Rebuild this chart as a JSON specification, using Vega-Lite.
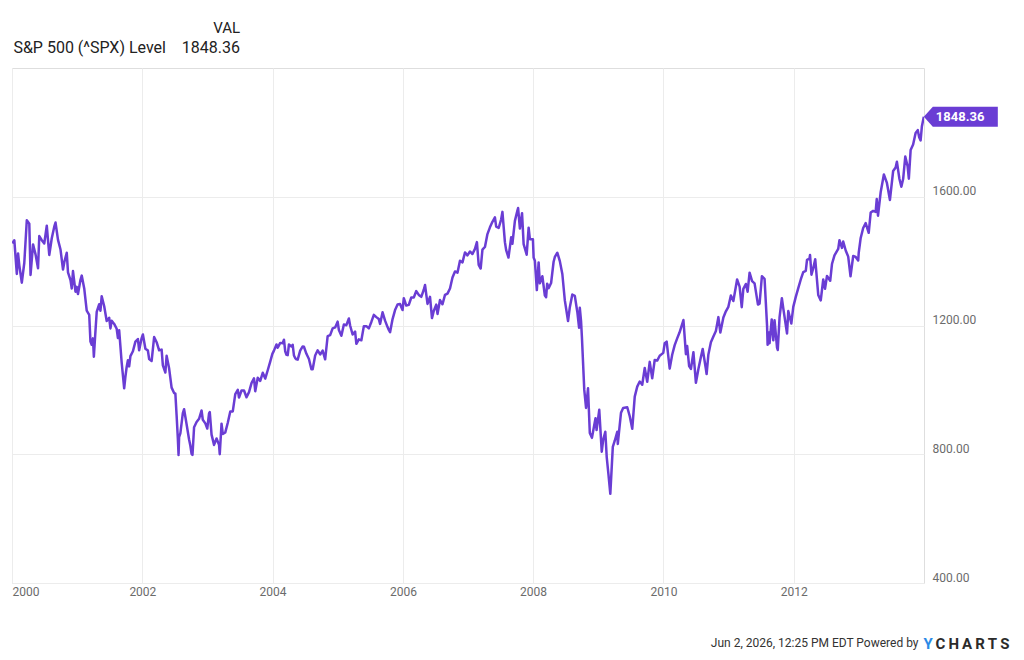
{
  "$schema": "https://vega.github.io/schema/vega-lite/v6.json",
  "width": 912,
  "height": 515,
  "autosize": {"type": "none"},
  "padding": {"left": 12, "top": 68, "right": 100, "bottom": 77},
  "background": "#ffffff",
  "title": {
    "text": "VAL",
    "subtitle": "S&P 500 (^SPX) Level\u00a0\u00a0\u00a0\u00a01848.36",
    "anchor": "start",
    "align": "right",
    "dx": 228,
    "offset": 12,
    "font": "Roboto",
    "fontSize": 15,
    "fontWeight": "normal",
    "color": "#222222",
    "subtitleFont": "Roboto",
    "subtitleFontSize": 16,
    "subtitleColor": "#222222",
    "subtitlePadding": 4
  },
  "config": {
    "view": {"stroke": "#dedede", "strokeWidth": 1},
    "axis": {"labelFont": "Roboto", "titleFont": "Roboto"}
  },
  "data": {
    "values": [
      {"d": "2000-01-03", "v": 1455}, {"d": "2000-01-14", "v": 1465}, {"d": "2000-01-28", "v": 1360},
      {"d": "2000-02-04", "v": 1424}, {"d": "2000-02-11", "v": 1387}, {"d": "2000-02-25", "v": 1333},
      {"d": "2000-03-10", "v": 1395}, {"d": "2000-03-24", "v": 1527}, {"d": "2000-04-07", "v": 1516},
      {"d": "2000-04-14", "v": 1357}, {"d": "2000-04-28", "v": 1452}, {"d": "2000-05-12", "v": 1421},
      {"d": "2000-05-26", "v": 1378}, {"d": "2000-06-02", "v": 1478}, {"d": "2000-06-16", "v": 1465},
      {"d": "2000-06-30", "v": 1455}, {"d": "2000-07-14", "v": 1510}, {"d": "2000-07-28", "v": 1419},
      {"d": "2000-08-11", "v": 1471}, {"d": "2000-08-25", "v": 1507}, {"d": "2000-09-01", "v": 1520},
      {"d": "2000-09-15", "v": 1466}, {"d": "2000-09-29", "v": 1436}, {"d": "2000-10-13", "v": 1374},
      {"d": "2000-10-20", "v": 1396}, {"d": "2000-11-03", "v": 1426}, {"d": "2000-11-10", "v": 1365},
      {"d": "2000-11-24", "v": 1341}, {"d": "2000-12-01", "v": 1315}, {"d": "2000-12-08", "v": 1369},
      {"d": "2000-12-22", "v": 1305}, {"d": "2000-12-29", "v": 1320},
      {"d": "2001-01-05", "v": 1298}, {"d": "2001-01-19", "v": 1342}, {"d": "2001-01-26", "v": 1355},
      {"d": "2001-02-09", "v": 1315}, {"d": "2001-02-23", "v": 1246}, {"d": "2001-03-09", "v": 1233},
      {"d": "2001-03-16", "v": 1150}, {"d": "2001-03-23", "v": 1140}, {"d": "2001-03-30", "v": 1160},
      {"d": "2001-04-04", "v": 1103}, {"d": "2001-04-13", "v": 1183}, {"d": "2001-04-20", "v": 1242},
      {"d": "2001-05-04", "v": 1266}, {"d": "2001-05-11", "v": 1246}, {"d": "2001-05-18", "v": 1291},
      {"d": "2001-06-01", "v": 1260}, {"d": "2001-06-15", "v": 1214}, {"d": "2001-06-29", "v": 1224},
      {"d": "2001-07-06", "v": 1191}, {"d": "2001-07-13", "v": 1215}, {"d": "2001-07-27", "v": 1205},
      {"d": "2001-08-10", "v": 1190}, {"d": "2001-08-17", "v": 1161}, {"d": "2001-08-24", "v": 1185},
      {"d": "2001-09-07", "v": 1085}, {"d": "2001-09-21", "v": 1005}, {"d": "2001-09-28", "v": 1041},
      {"d": "2001-10-05", "v": 1071}, {"d": "2001-10-12", "v": 1092}, {"d": "2001-10-19", "v": 1073},
      {"d": "2001-10-26", "v": 1105}, {"d": "2001-11-09", "v": 1120}, {"d": "2001-11-23", "v": 1150},
      {"d": "2001-12-07", "v": 1158}, {"d": "2001-12-14", "v": 1123}, {"d": "2001-12-28", "v": 1161},
      {"d": "2002-01-04", "v": 1172}, {"d": "2002-01-18", "v": 1128}, {"d": "2002-02-01", "v": 1122},
      {"d": "2002-02-08", "v": 1096}, {"d": "2002-02-22", "v": 1090}, {"d": "2002-03-08", "v": 1164},
      {"d": "2002-03-22", "v": 1148}, {"d": "2002-04-05", "v": 1123}, {"d": "2002-04-19", "v": 1125},
      {"d": "2002-04-26", "v": 1076}, {"d": "2002-05-10", "v": 1054}, {"d": "2002-05-17", "v": 1106},
      {"d": "2002-05-31", "v": 1067}, {"d": "2002-06-14", "v": 1007}, {"d": "2002-06-28", "v": 990},
      {"d": "2002-07-05", "v": 989}, {"d": "2002-07-12", "v": 921}, {"d": "2002-07-19", "v": 848},
      {"d": "2002-07-23", "v": 798}, {"d": "2002-07-26", "v": 853}, {"d": "2002-08-02", "v": 865},
      {"d": "2002-08-16", "v": 928}, {"d": "2002-08-23", "v": 940}, {"d": "2002-09-06", "v": 893},
      {"d": "2002-09-20", "v": 846}, {"d": "2002-09-27", "v": 827}, {"d": "2002-10-04", "v": 801},
      {"d": "2002-10-09", "v": 798}, {"d": "2002-10-18", "v": 884}, {"d": "2002-11-01", "v": 900},
      {"d": "2002-11-15", "v": 910}, {"d": "2002-11-29", "v": 936}, {"d": "2002-12-06", "v": 907},
      {"d": "2002-12-20", "v": 896}, {"d": "2002-12-31", "v": 880},
      {"d": "2003-01-10", "v": 927}, {"d": "2003-01-14", "v": 931}, {"d": "2003-01-24", "v": 861},
      {"d": "2003-02-07", "v": 829}, {"d": "2003-02-21", "v": 849}, {"d": "2003-03-07", "v": 829},
      {"d": "2003-03-11", "v": 800}, {"d": "2003-03-21", "v": 895}, {"d": "2003-03-28", "v": 863},
      {"d": "2003-04-11", "v": 868}, {"d": "2003-04-25", "v": 898}, {"d": "2003-05-09", "v": 933},
      {"d": "2003-05-23", "v": 933}, {"d": "2003-06-06", "v": 987}, {"d": "2003-06-20", "v": 1000},
      {"d": "2003-06-27", "v": 976}, {"d": "2003-07-11", "v": 998}, {"d": "2003-07-25", "v": 998},
      {"d": "2003-08-08", "v": 977}, {"d": "2003-08-22", "v": 993}, {"d": "2003-09-05", "v": 1021},
      {"d": "2003-09-19", "v": 1036}, {"d": "2003-09-26", "v": 996}, {"d": "2003-10-10", "v": 1038},
      {"d": "2003-10-24", "v": 1028}, {"d": "2003-11-07", "v": 1053}, {"d": "2003-11-21", "v": 1035},
      {"d": "2003-12-05", "v": 1061}, {"d": "2003-12-19", "v": 1088}, {"d": "2003-12-31", "v": 1112},
      {"d": "2004-01-09", "v": 1122}, {"d": "2004-01-23", "v": 1141}, {"d": "2004-01-30", "v": 1131},
      {"d": "2004-02-13", "v": 1146}, {"d": "2004-02-27", "v": 1145}, {"d": "2004-03-05", "v": 1156},
      {"d": "2004-03-12", "v": 1120}, {"d": "2004-03-19", "v": 1109}, {"d": "2004-03-26", "v": 1108},
      {"d": "2004-04-02", "v": 1141}, {"d": "2004-04-16", "v": 1135}, {"d": "2004-04-23", "v": 1140},
      {"d": "2004-04-30", "v": 1107}, {"d": "2004-05-07", "v": 1099}, {"d": "2004-05-14", "v": 1095},
      {"d": "2004-05-21", "v": 1094}, {"d": "2004-06-04", "v": 1122}, {"d": "2004-06-18", "v": 1135},
      {"d": "2004-06-25", "v": 1134}, {"d": "2004-07-09", "v": 1112}, {"d": "2004-07-23", "v": 1096},
      {"d": "2004-08-06", "v": 1064}, {"d": "2004-08-13", "v": 1064}, {"d": "2004-08-27", "v": 1107},
      {"d": "2004-09-10", "v": 1123}, {"d": "2004-09-24", "v": 1110}, {"d": "2004-10-08", "v": 1122},
      {"d": "2004-10-22", "v": 1095}, {"d": "2004-11-05", "v": 1167}, {"d": "2004-11-19", "v": 1170},
      {"d": "2004-12-03", "v": 1191}, {"d": "2004-12-17", "v": 1194}, {"d": "2004-12-31", "v": 1212},
      {"d": "2005-01-07", "v": 1186}, {"d": "2005-01-21", "v": 1168}, {"d": "2005-02-04", "v": 1203},
      {"d": "2005-02-18", "v": 1201}, {"d": "2005-03-04", "v": 1222}, {"d": "2005-03-11", "v": 1200},
      {"d": "2005-03-25", "v": 1172}, {"d": "2005-04-08", "v": 1181}, {"d": "2005-04-15", "v": 1143},
      {"d": "2005-04-29", "v": 1157}, {"d": "2005-05-13", "v": 1154}, {"d": "2005-05-27", "v": 1198},
      {"d": "2005-06-10", "v": 1198}, {"d": "2005-06-24", "v": 1191}, {"d": "2005-07-08", "v": 1211},
      {"d": "2005-07-22", "v": 1233}, {"d": "2005-08-05", "v": 1226}, {"d": "2005-08-19", "v": 1220},
      {"d": "2005-08-26", "v": 1205}, {"d": "2005-09-09", "v": 1241}, {"d": "2005-09-23", "v": 1215},
      {"d": "2005-10-07", "v": 1195}, {"d": "2005-10-14", "v": 1186}, {"d": "2005-10-21", "v": 1179},
      {"d": "2005-11-04", "v": 1220}, {"d": "2005-11-18", "v": 1248}, {"d": "2005-12-02", "v": 1265},
      {"d": "2005-12-16", "v": 1267}, {"d": "2005-12-30", "v": 1248},
      {"d": "2006-01-06", "v": 1285}, {"d": "2006-01-20", "v": 1262}, {"d": "2006-02-03", "v": 1264},
      {"d": "2006-02-17", "v": 1287}, {"d": "2006-03-03", "v": 1287}, {"d": "2006-03-17", "v": 1307},
      {"d": "2006-03-31", "v": 1295}, {"d": "2006-04-14", "v": 1289}, {"d": "2006-04-28", "v": 1311},
      {"d": "2006-05-05", "v": 1326}, {"d": "2006-05-19", "v": 1267}, {"d": "2006-06-02", "v": 1289},
      {"d": "2006-06-13", "v": 1223}, {"d": "2006-06-23", "v": 1245}, {"d": "2006-07-07", "v": 1265},
      {"d": "2006-07-14", "v": 1236}, {"d": "2006-07-28", "v": 1279}, {"d": "2006-08-11", "v": 1266},
      {"d": "2006-08-25", "v": 1295}, {"d": "2006-09-08", "v": 1299}, {"d": "2006-09-22", "v": 1315},
      {"d": "2006-10-06", "v": 1349}, {"d": "2006-10-20", "v": 1368}, {"d": "2006-11-03", "v": 1364},
      {"d": "2006-11-17", "v": 1401}, {"d": "2006-12-01", "v": 1396}, {"d": "2006-12-15", "v": 1427},
      {"d": "2006-12-29", "v": 1418},
      {"d": "2007-01-12", "v": 1430}, {"d": "2007-01-26", "v": 1422}, {"d": "2007-02-09", "v": 1438},
      {"d": "2007-02-20", "v": 1459}, {"d": "2007-03-02", "v": 1388}, {"d": "2007-03-13", "v": 1377},
      {"d": "2007-03-23", "v": 1436}, {"d": "2007-04-06", "v": 1444}, {"d": "2007-04-20", "v": 1484},
      {"d": "2007-05-04", "v": 1505}, {"d": "2007-05-18", "v": 1522}, {"d": "2007-06-01", "v": 1536},
      {"d": "2007-06-08", "v": 1507}, {"d": "2007-06-22", "v": 1503}, {"d": "2007-07-06", "v": 1530},
      {"d": "2007-07-13", "v": 1553}, {"d": "2007-07-27", "v": 1459}, {"d": "2007-08-03", "v": 1434},
      {"d": "2007-08-16", "v": 1411}, {"d": "2007-08-31", "v": 1474}, {"d": "2007-09-07", "v": 1454},
      {"d": "2007-09-21", "v": 1525}, {"d": "2007-10-05", "v": 1557}, {"d": "2007-10-09", "v": 1565},
      {"d": "2007-10-19", "v": 1501}, {"d": "2007-10-31", "v": 1549}, {"d": "2007-11-09", "v": 1453},
      {"d": "2007-11-26", "v": 1420}, {"d": "2007-12-07", "v": 1504}, {"d": "2007-12-14", "v": 1468},
      {"d": "2007-12-31", "v": 1468},
      {"d": "2008-01-04", "v": 1411}, {"d": "2008-01-11", "v": 1401}, {"d": "2008-01-22", "v": 1310},
      {"d": "2008-02-01", "v": 1396}, {"d": "2008-02-08", "v": 1331}, {"d": "2008-02-22", "v": 1353},
      {"d": "2008-03-07", "v": 1293}, {"d": "2008-03-14", "v": 1288}, {"d": "2008-03-20", "v": 1330},
      {"d": "2008-03-28", "v": 1316}, {"d": "2008-04-11", "v": 1332}, {"d": "2008-04-25", "v": 1398},
      {"d": "2008-05-02", "v": 1413}, {"d": "2008-05-16", "v": 1426}, {"d": "2008-05-30", "v": 1400},
      {"d": "2008-06-13", "v": 1360}, {"d": "2008-06-27", "v": 1278}, {"d": "2008-07-15", "v": 1214},
      {"d": "2008-07-25", "v": 1257}, {"d": "2008-08-08", "v": 1296}, {"d": "2008-08-22", "v": 1292},
      {"d": "2008-09-05", "v": 1242}, {"d": "2008-09-15", "v": 1193}, {"d": "2008-09-19", "v": 1255},
      {"d": "2008-09-26", "v": 1213}, {"d": "2008-10-01", "v": 1161}, {"d": "2008-10-14", "v": 1000},
      {"d": "2008-10-24", "v": 944}, {"d": "2008-11-04", "v": 1005}, {"d": "2008-11-14", "v": 866},
      {"d": "2008-11-26", "v": 851}, {"d": "2008-12-16", "v": 912}, {"d": "2008-12-22", "v": 875},
      {"d": "2009-01-06", "v": 938}, {"d": "2009-01-20", "v": 808}, {"d": "2009-01-28", "v": 845},
      {"d": "2009-02-09", "v": 870}, {"d": "2009-02-17", "v": 790}, {"d": "2009-02-27", "v": 735},
      {"d": "2009-03-09", "v": 677}, {"d": "2009-03-23", "v": 823}, {"d": "2009-04-03", "v": 842},
      {"d": "2009-04-17", "v": 870}, {"d": "2009-04-20", "v": 832}, {"d": "2009-05-08", "v": 929},
      {"d": "2009-05-20", "v": 944}, {"d": "2009-06-12", "v": 946}, {"d": "2009-06-26", "v": 918},
      {"d": "2009-07-10", "v": 879}, {"d": "2009-07-24", "v": 979}, {"d": "2009-08-07", "v": 1010},
      {"d": "2009-08-21", "v": 1026}, {"d": "2009-09-04", "v": 1016}, {"d": "2009-09-18", "v": 1068},
      {"d": "2009-10-02", "v": 1025}, {"d": "2009-10-16", "v": 1087}, {"d": "2009-10-30", "v": 1036},
      {"d": "2009-11-13", "v": 1093}, {"d": "2009-11-27", "v": 1091}, {"d": "2009-12-11", "v": 1106},
      {"d": "2009-12-31", "v": 1115},
      {"d": "2010-01-08", "v": 1145}, {"d": "2010-01-19", "v": 1150}, {"d": "2010-02-05", "v": 1066},
      {"d": "2010-02-19", "v": 1109}, {"d": "2010-03-05", "v": 1139}, {"d": "2010-03-19", "v": 1160},
      {"d": "2010-04-01", "v": 1178}, {"d": "2010-04-23", "v": 1217}, {"d": "2010-05-07", "v": 1111},
      {"d": "2010-05-14", "v": 1136}, {"d": "2010-05-25", "v": 1074}, {"d": "2010-06-04", "v": 1065},
      {"d": "2010-06-18", "v": 1117}, {"d": "2010-07-02", "v": 1022}, {"d": "2010-07-16", "v": 1065},
      {"d": "2010-07-30", "v": 1102}, {"d": "2010-08-09", "v": 1127}, {"d": "2010-08-27", "v": 1065},
      {"d": "2010-08-31", "v": 1049}, {"d": "2010-09-10", "v": 1110}, {"d": "2010-09-24", "v": 1148},
      {"d": "2010-10-08", "v": 1166}, {"d": "2010-10-22", "v": 1183}, {"d": "2010-11-05", "v": 1226},
      {"d": "2010-11-16", "v": 1178}, {"d": "2010-12-03", "v": 1225}, {"d": "2010-12-17", "v": 1244},
      {"d": "2010-12-31", "v": 1258},
      {"d": "2011-01-14", "v": 1293}, {"d": "2011-01-28", "v": 1276}, {"d": "2011-02-18", "v": 1343},
      {"d": "2011-03-04", "v": 1321}, {"d": "2011-03-16", "v": 1257}, {"d": "2011-03-25", "v": 1314},
      {"d": "2011-04-08", "v": 1329}, {"d": "2011-04-18", "v": 1305}, {"d": "2011-04-29", "v": 1364},
      {"d": "2011-05-13", "v": 1338}, {"d": "2011-05-27", "v": 1331}, {"d": "2011-06-15", "v": 1265},
      {"d": "2011-06-24", "v": 1268}, {"d": "2011-07-07", "v": 1353}, {"d": "2011-07-22", "v": 1345},
      {"d": "2011-08-05", "v": 1199}, {"d": "2011-08-08", "v": 1140}, {"d": "2011-08-12", "v": 1179},
      {"d": "2011-08-19", "v": 1145}, {"d": "2011-08-31", "v": 1219}, {"d": "2011-09-09", "v": 1154},
      {"d": "2011-09-16", "v": 1216}, {"d": "2011-09-30", "v": 1131}, {"d": "2011-10-04", "v": 1124},
      {"d": "2011-10-14", "v": 1225}, {"d": "2011-10-27", "v": 1285}, {"d": "2011-11-04", "v": 1253},
      {"d": "2011-11-25", "v": 1175}, {"d": "2011-12-02", "v": 1245}, {"d": "2011-12-19", "v": 1206},
      {"d": "2011-12-30", "v": 1258},
      {"d": "2012-01-13", "v": 1289}, {"d": "2012-01-27", "v": 1316}, {"d": "2012-02-10", "v": 1343},
      {"d": "2012-02-24", "v": 1366}, {"d": "2012-03-09", "v": 1370}, {"d": "2012-03-16", "v": 1404},
      {"d": "2012-03-30", "v": 1408}, {"d": "2012-04-02", "v": 1419}, {"d": "2012-04-10", "v": 1358},
      {"d": "2012-04-20", "v": 1378}, {"d": "2012-05-01", "v": 1406}, {"d": "2012-05-18", "v": 1295},
      {"d": "2012-06-01", "v": 1278}, {"d": "2012-06-15", "v": 1343}, {"d": "2012-06-25", "v": 1314},
      {"d": "2012-07-06", "v": 1354}, {"d": "2012-07-24", "v": 1339}, {"d": "2012-08-03", "v": 1391},
      {"d": "2012-08-17", "v": 1418}, {"d": "2012-09-07", "v": 1438}, {"d": "2012-09-14", "v": 1465},
      {"d": "2012-09-28", "v": 1441}, {"d": "2012-10-05", "v": 1461}, {"d": "2012-10-19", "v": 1433},
      {"d": "2012-11-02", "v": 1414}, {"d": "2012-11-15", "v": 1353}, {"d": "2012-11-30", "v": 1416},
      {"d": "2012-12-14", "v": 1413}, {"d": "2012-12-28", "v": 1402}, {"d": "2012-12-31", "v": 1426},
      {"d": "2013-01-11", "v": 1472}, {"d": "2013-01-25", "v": 1503}, {"d": "2013-02-08", "v": 1518},
      {"d": "2013-02-25", "v": 1488}, {"d": "2013-03-08", "v": 1551}, {"d": "2013-03-22", "v": 1556},
      {"d": "2013-04-05", "v": 1553}, {"d": "2013-04-11", "v": 1593}, {"d": "2013-04-18", "v": 1541},
      {"d": "2013-05-03", "v": 1614}, {"d": "2013-05-21", "v": 1669}, {"d": "2013-06-07", "v": 1643},
      {"d": "2013-06-24", "v": 1590}, {"d": "2013-07-12", "v": 1680}, {"d": "2013-07-26", "v": 1691},
      {"d": "2013-08-02", "v": 1709}, {"d": "2013-08-16", "v": 1656}, {"d": "2013-08-27", "v": 1631},
      {"d": "2013-09-06", "v": 1655}, {"d": "2013-09-18", "v": 1725}, {"d": "2013-10-01", "v": 1695},
      {"d": "2013-10-08", "v": 1656}, {"d": "2013-10-18", "v": 1745}, {"d": "2013-11-01", "v": 1762},
      {"d": "2013-11-15", "v": 1798}, {"d": "2013-11-27", "v": 1807}, {"d": "2013-12-05", "v": 1785},
      {"d": "2013-12-13", "v": 1775}, {"d": "2013-12-20", "v": 1818}, {"d": "2013-12-31", "v": 1848.36}
    ]
  },
  "resolve": {"axis": {"y": "independent"}},
  "layer": [
    {
      "mark": {"type": "line", "color": "#6a3dd4", "strokeWidth": 2.5, "strokeJoin": "round", "clip": true},
      "encoding": {
        "x": {
          "field": "d", "type": "temporal",
          "scale": {"domain": [{"year": 2000, "month": 1, "date": 1}, {"year": 2014, "month": 1, "date": 1}]},
          "axis": {
            "values": [{"year": 2000}, {"year": 2002}, {"year": 2004}, {"year": 2006}, {"year": 2008}, {"year": 2010}, {"year": 2012}],
            "format": "%Y",
            "labelFlush": true,
            "labelFontSize": 12,
            "labelColor": "#6b6b6b",
            "labelPadding": 3,
            "ticks": false,
            "tickSize": 0,
            "domain": false,
            "grid": true,
            "gridColor": "#ececec",
            "gridWidth": 1,
            "title": "Jun 2, 2026, 12:25 PM EDT Powered by",
            "titleFontSize": 12,
            "titleFontWeight": "normal",
            "titleColor": "#333333",
            "titleAlign": "right",
            "titleBaseline": "alphabetic",
            "titleX": 906,
            "titleY": 63
          }
        },
        "y": {
          "field": "v", "type": "quantitative",
          "scale": {"domain": [400, 2000], "nice": false, "zero": false},
          "axis": {
            "orient": "right",
            "values": [400, 800, 1200, 1600],
            "format": ".2f",
            "labelFontSize": 12,
            "labelColor": "#6b6b6b",
            "labelAlign": "left",
            "labelBaseline": "alphabetic",
            "labelOffset": -2,
            "labelPadding": 8,
            "ticks": false,
            "tickSize": 0,
            "domain": false,
            "grid": true,
            "gridColor": "#ececec",
            "gridWidth": 1,
            "title": "C\u2009H\u2009A\u2009R\u2009T\u2009S",
            "titleFont": "Roboto",
            "titleFontSize": 15,
            "titleFontWeight": "bold",
            "titleColor": "#2b2b2b",
            "titleAngle": 0,
            "titleAlign": "left",
            "titleBaseline": "alphabetic",
            "titleX": 11,
            "titleY": 580
          }
        }
      }
    },
    {
      "transform": [{"filter": "datum.v == 1848.36"}],
      "mark": {
        "type": "point",
        "shape": "M0,0L9,-10L74,-10L74,10L9,10Z",
        "size": 4,
        "filled": true,
        "color": "#6a3dd4",
        "opacity": 1,
        "strokeWidth": 0
      },
      "encoding": {
        "x": {"field": "d", "type": "temporal"},
        "y": {
          "field": "v", "type": "quantitative",
          "axis": {
            "orient": "left",
            "labels": false,
            "ticks": false,
            "domain": false,
            "grid": false,
            "title": "Y",
            "titleFont": "Roboto",
            "titleFontSize": 15,
            "titleFontWeight": "bold",
            "titleColor": "#2a8ae6",
            "titleAngle": 0,
            "titleAlign": "left",
            "titleBaseline": "alphabetic",
            "titleX": 911,
            "titleY": 580
          }
        }
      }
    },
    {
      "transform": [{"filter": "datum.v == 1848.36"}],
      "mark": {
        "type": "text",
        "align": "left",
        "baseline": "middle",
        "dx": 12,
        "dy": 0,
        "font": "Roboto",
        "fontSize": 13,
        "fontWeight": "bold",
        "color": "#ffffff"
      },
      "encoding": {
        "x": {"field": "d", "type": "temporal"},
        "y": {"field": "v", "type": "quantitative", "axis": null},
        "text": {"field": "v", "type": "quantitative", "format": ".2f"}
      }
    }
  ]
}
